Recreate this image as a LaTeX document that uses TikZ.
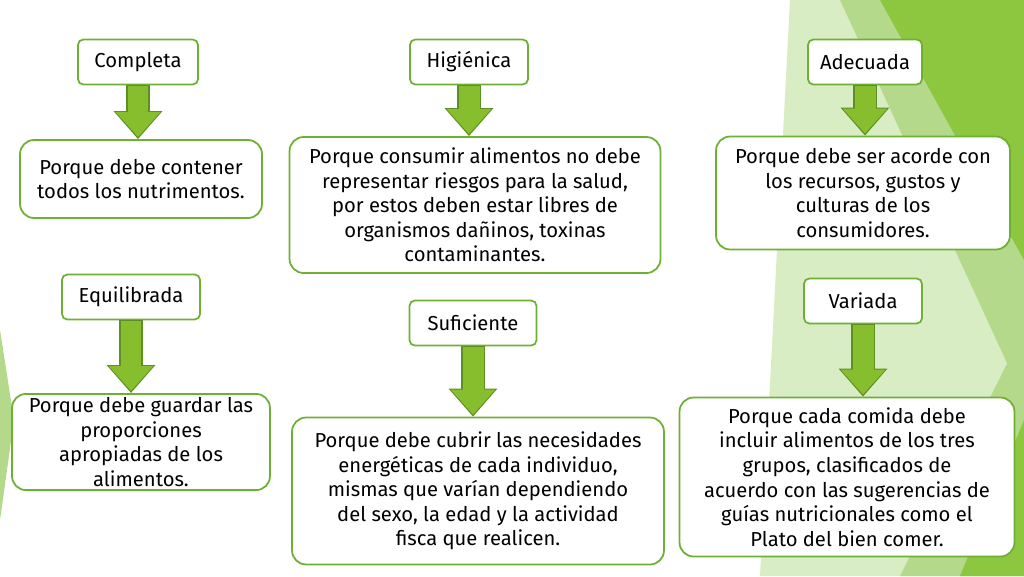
\documentclass[tikz,border=0pt]{standalone}
\usepackage{fontspec}
\setmainfont{Fira Sans}
\usetikzlibrary{arrows.meta,positioning}
\definecolor{boxline}{HTML}{6DB033}
\definecolor{arrowfill}{HTML}{86BE2E}
\definecolor{arrowline}{HTML}{5E8F22}
\definecolor{bgA}{HTML}{8DC63F}
\definecolor{bgB}{HTML}{B5D98A}
\definecolor{bgC}{HTML}{D9EDC4}
\begin{document}
\begin{tikzpicture}[x=0.02cm,y=-0.02cm,
    title/.style={draw=boxline,line width=1pt,rounded corners=3pt,fill=white,
                  font=\fontsize{11.5}{13}\selectfont,inner sep=0pt,minimum height=0.9cm},
    reason/.style={draw=boxline,line width=1pt,rounded corners=8pt,fill=white,
                   font=\fontsize{11.5}{14}\selectfont,align=center,inner sep=2pt},
    fatrim/.style={line width=0.48cm,draw=arrowline,
                -{Triangle[width=0.94cm,length=0.56cm]}},
    fat/.style={line width=0.42cm,draw=arrowfill,shorten >=0.04cm,
                -{Triangle[width=0.86cm,length=0.5cm]}}]

  % background
  \useasboundingbox (0,0) rectangle (1024,576);
  \fill[white] (0,0) rectangle (1024,576);
  \fill[bgC] (790,0) -- (1024,0) -- (1024,576) -- (760,576) -- cycle;
  \fill[bgB] (840,0) -- (1024,0) -- (1024,400) -- cycle;
  \fill[bgA] (880,0) -- (1024,0) -- (1024,260) -- cycle;
  \fill[bgB] (1024,330) -- (1024,576) -- (900,576) -- cycle;
  \fill[bgA] (1024,420) -- (1024,576) -- (960,576) -- cycle;
  \fill[bgB] (0,330) -- (14,420) -- (0,520) -- cycle;

  % titles
  \node[title,minimum width=2.4cm]  (comp) at (138,62)  {Completa};
  \node[title,minimum width=2.36cm] (hig)  at (469,62)  {Higiénica};
  \node[title,minimum width=2.28cm] (adec) at (865,62)  {Adecuada};
  \node[title,minimum width=2.76cm] (equi) at (131,297) {Equilibrada};
  \node[title,minimum width=2.54cm] (suf)  at (473,323) {Suficiente};
  \node[title,minimum width=2.36cm] (var)  at (863,301) {Variada};

  % reasons
  \node[reason,minimum width=4.84cm,minimum height=1.56cm] (rcomp) at (141,179)
    {Porque debe contener\\todos los nutrimentos.};
  \node[reason,minimum width=7.42cm,minimum height=2.72cm] (rhig) at (475,205)
    {Porque consumir alimentos no debe\\representar riesgos para la salud,\\por estos deben estar libres de\\organismos dañinos, toxinas\\contaminantes.};
  \node[reason,minimum width=5.88cm,minimum height=2.26cm] (radec) at (863,193)
    {Porque debe ser acorde con\\los recursos, gustos y\\culturas de los\\consumidores.};
  \node[reason,minimum width=5.16cm,minimum height=1.9cm] (requi) at (141,442)
    {Porque debe guardar las\\proporciones\\apropiadas de los\\alimentos.};
  \node[reason,minimum width=7.44cm,minimum height=2.94cm] (rsuf) at (478,491)
    {Porque debe cubrir las necesidades\\energéticas de cada individuo,\\mismas que varían dependiendo\\del sexo, la edad y la actividad\\fisca que realicen.};
  \node[reason,minimum width=6.7cm,minimum height=3.18cm] (rvar) at (847,477)
    {Porque cada comida debe\\incluir alimentos de los tres\\grupos, clasificados de\\acuerdo con las sugerencias de\\guías nutricionales como el\\Plato del bien comer.};

  % arrows
  \foreach \a/\b in {comp/rcomp,hig/rhig,adec/radec,equi/requi,suf/rsuf,var/rvar}{
    \draw[fatrim] ([yshift=0.5pt]\a.south) -- (\a.south |- \b.north);
    \draw[fat] ([yshift=-0.5pt]\a.south) -- (\a.south |- \b.north);
  }
\end{tikzpicture}
\end{document}
